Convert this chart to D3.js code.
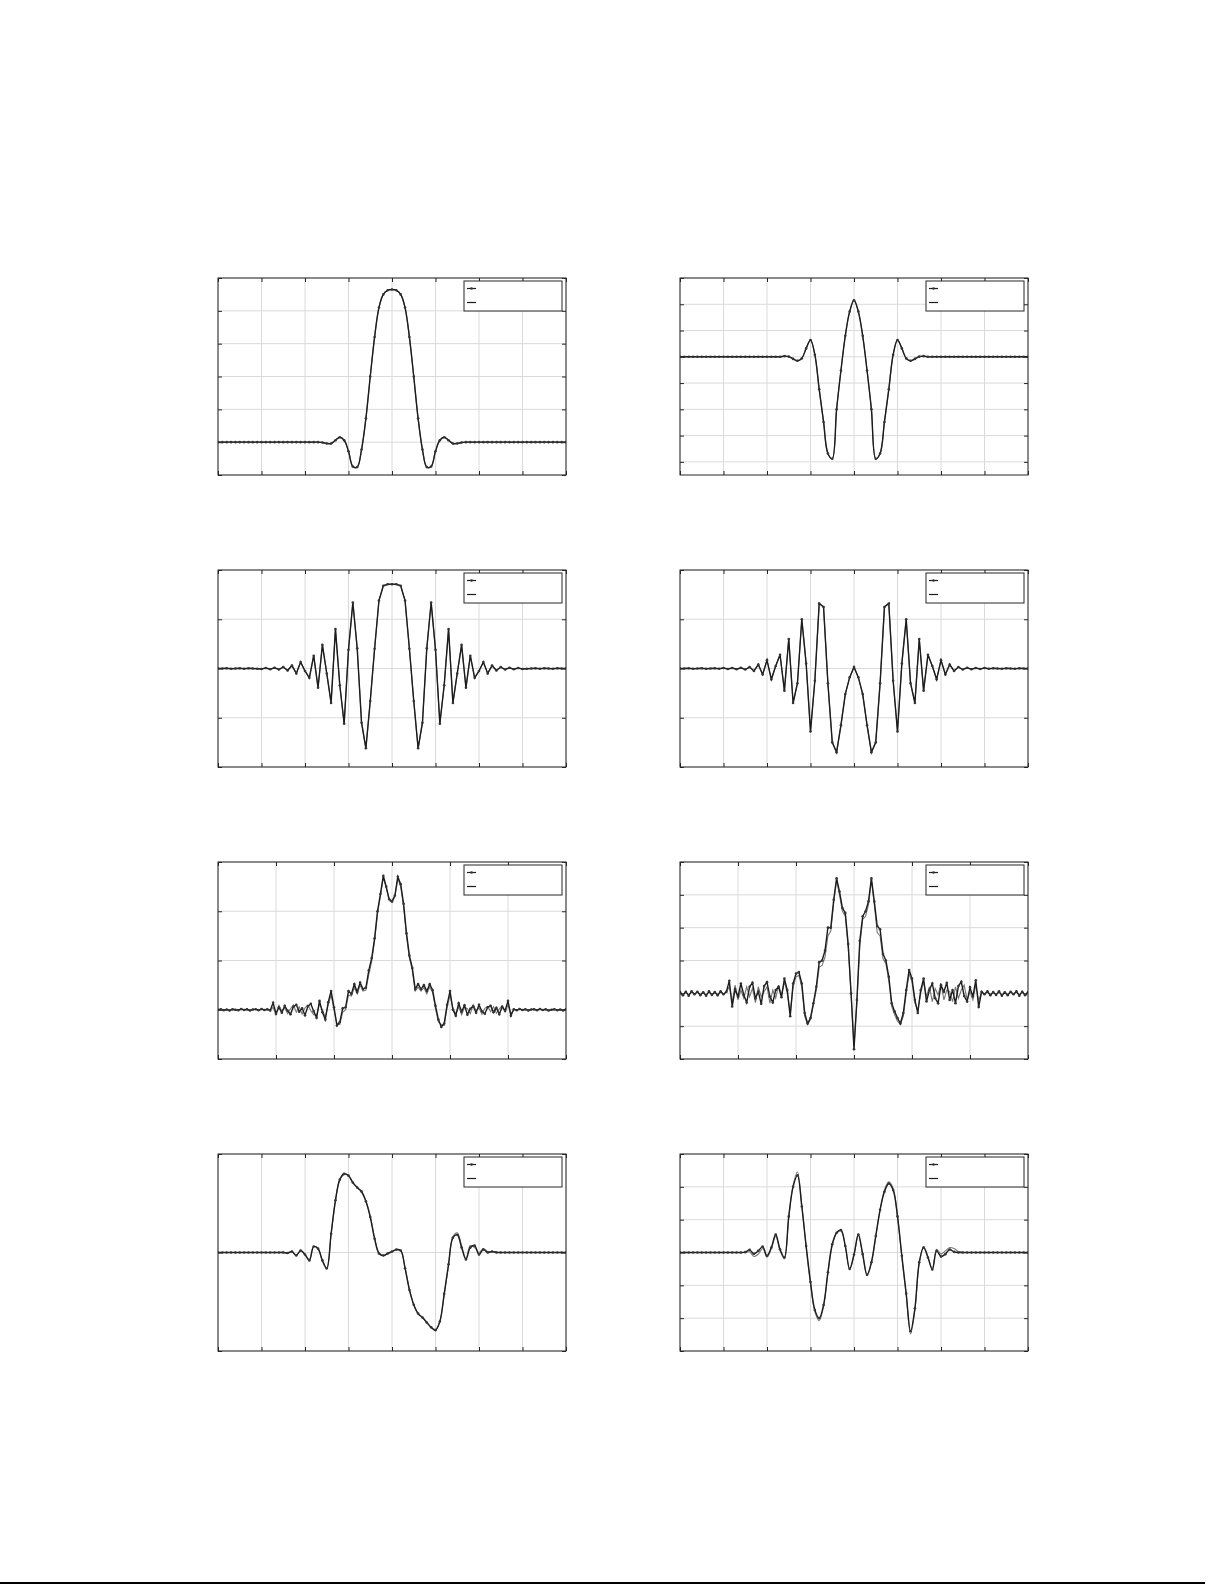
<!DOCTYPE html>
<html><head><meta charset="utf-8">
<script src="https://cdn.jsdelivr.net/npm/d3@7"></script>
<style>html,body{margin:0;padding:0;background:#fff;}svg{display:block;}</style>
</head><body>
<svg id="chart" width="1225" height="1585"></svg>
<script>
// ---------------- DATA ----------------
const xDom8 = [-4, 4];
const xDom6 = [-3, 3];
const xTicks8 = [-4, -3, -2, -1, 0, 1, 2, 3, 4];
const xTicks6 = [-3, -2, -1, 0, 1, 2, 3];

const yDom1 = [-0.2, 1.0];   const yTicks1 = [-0.2, 0, 0.2, 0.4, 0.6, 0.8, 1.0];
const yDom2 = [-1.125, 0.75]; const yTicks2 = [-1, -0.75, -0.5, -0.25, 0, 0.25, 0.5, 0.75];
const yDom3 = [-2, 2];       const yTicks3 = [-2, -1, 0, 1, 2];
const yDom4 = [-2, 2];       const yTicks4 = [-2, -1, 0, 1, 2];
const yDom5 = [-1, 3];       const yTicks5 = [-1, 0, 1, 2, 3];
const yDom6 = [-2, 4];       const yTicks6 = [-2, -1, 0, 1, 2, 3, 4];
const yDom7 = [-1, 1];       const yTicks7 = [-1, 0, 1];
const yDom8 = [-3, 3];       const yTicks8 = [-3, -2, -1, 0, 1, 2, 3];

// panel 1 (81 samples over [-4,4])
const p1Dots = [0,0,0,0,0,0,0,0,0,0,0,0,0,0,0,0,0,0,0,0,0,0,0,
  0,-0.002,-0.008,-0.008,0.012,0.03,0.012,-0.055,-0.148,-0.152,-0.045,0.145,0.40,0.64,0.82,0.90,0.925,
  0.93,
  0.925,0.90,0.82,0.64,0.40,0.145,-0.045,-0.152,-0.148,-0.055,0.012,0.03,0.012,-0.008,-0.008,-0.002,0,
  0,0,0,0,0,0,0,0,0,0,0,0,0,0,0,0,0,0,0,0,0,0,0];
const p1Line = p1Dots.slice();

// panel 2
const p2Dots = [0,0,0,0,0,0,0,0,0,0,0,0,0,0,0,0,0,0,0,0,0,0,0,
  0,0.006,0.002,-0.02,-0.038,-0.015,0.08,0.16,0.02,-0.31,-0.62,-0.92,-0.97,-0.5,-0.13,0.20,0.43,
  0.538,
  0.43,0.20,-0.13,-0.5,-0.97,-0.92,-0.62,-0.31,0.02,0.16,0.08,-0.015,-0.038,-0.02,0.002,0.006,0,
  0,0,0,0,0,0,0,0,0,0,0,0,0,0,0,0,0,0,0,0,0,0,0];
const p2Line = p2Dots.slice();

// panel 3
const p3Dots = [0,0,0.005,-0.005,0,0.005,-0.005,0.005,0,-0.005,
  -0.01,0.01,-0.015,0.015,-0.02,0.03,-0.04,0.06,-0.10,0.13,-0.05,-0.19,0.26,-0.39,0.48,-0.1,-0.7,0.80,-0.34,-1.12,
  0.38,1.34,0.41,-1.1,-1.62,-0.66,0.4,1.38,1.68,1.71,
  1.71,
  1.71,1.68,1.38,0.4,-0.66,-1.62,-1.1,0.41,1.34,0.38,
  -1.12,-0.34,0.80,-0.7,-0.1,0.48,-0.39,0.26,-0.19,-0.05,0.13,-0.10,0.06,-0.04,0.03,-0.02,0.015,-0.015,0.01,-0.01,
  -0.005,0,0.005,-0.005,0.005,0,-0.005,0.005,0,0];
const p3Line = p3Dots.slice();

// panel 4
const p4Dots = [0,0,0.005,-0.005,0,0.005,-0.005,0,0.005,-0.005,
  0.01,-0.01,0.01,-0.015,0.015,-0.02,0.03,-0.05,0.08,-0.12,0.17,-0.22,0.05,0.28,-0.45,0.6,-0.7,-0.3,1.0,0.1,
  -1.28,-0.25,1.32,1.25,-0.3,-1.5,-1.7,-1.15,-0.52,-0.18,
  0.03,
  -0.18,-0.52,-1.15,-1.7,-1.5,-0.3,1.25,1.32,-0.25,-1.28,
  0.1,1.0,-0.3,-0.7,0.6,-0.45,0.28,0.05,-0.22,0.17,-0.12,0.08,-0.05,0.03,-0.02,0.015,-0.015,0.01,-0.01,0.01,
  -0.005,0.005,0,-0.005,0.005,0,-0.005,0.005,0,0];
const p4Line = p4Dots.slice();

// panel 5 (121 samples over [-3,3])
const p5Dots = [0,0.01,-0.01,0.005,-0.015,0.01,0,-0.01,0.015,-0.005,0.01,-0.015,0.005,0.01,-0.01,0.015,-0.005,0.01,-0.015,
  0.14,-0.08,0.05,-0.06,0.08,-0.02,-0.09,0.06,0.1,-0.04,0.03,-0.11,0.07,0.12,-0.03,-0.16,
  0.18,-0.05,-0.2,0.15,0.38,0.05,-0.32,-0.25,0.03,0.05,0.38,0.32,0.52,0.36,0.55,0.42,0.45,0.8,1.05,1.45,
  2.0,2.35,2.72,2.5,2.25,2.2,2.32,2.7,2.55,2.15,1.55,1.1,0.85,0.42,0.52,0.42,0.5,0.38,0.52,0.4,
  0.08,-0.2,-0.35,-0.28,0.1,0.38,0.0,-0.12,0.13,-0.04,0.09,-0.1,0.02,0.07,-0.06,0.1,-0.03,-0.08,0.05,0.08,
  -0.05,0.04,-0.09,0.06,-0.02,0.18,-0.12,
  0.01,-0.01,0.015,-0.005,0.01,-0.015,0.005,0.01,-0.01,0.015,-0.005,0.01,-0.015,0,0.01,-0.01,0.005,-0.015,0.01];
const p5Line = [0,0.005,-0.005,0.005,-0.01,0.005,0,-0.005,0.01,-0.005,0.005,-0.01,0.005,0.005,-0.005,0.01,-0.005,0.005,-0.01,
  0.05,-0.1,0.09,-0.03,0.04,-0.08,0.02,0.1,-0.05,0.06,-0.09,0.04,0.1,-0.02,-0.1,-0.12,
  0.12,0.0,-0.15,0.1,0.3,0.0,-0.28,-0.3,-0.05,0.0,0.3,0.28,0.45,0.32,0.5,0.38,0.4,0.72,0.98,1.4,
  1.95,2.3,2.68,2.48,2.22,2.18,2.3,2.66,2.5,2.1,1.5,1.05,0.8,0.38,0.46,0.38,0.45,0.32,0.46,0.35,
  0.02,-0.25,-0.3,-0.32,0.05,0.3,0.04,-0.08,0.06,-0.1,0.05,0.02,-0.08,0.1,-0.02,0.04,-0.09,0.03,0.07,-0.04,
  0.06,-0.07,0.02,0.08,-0.05,0.1,-0.08,
  0.005,-0.005,0.01,-0.005,0.005,-0.01,0.005,0.005,-0.005,0.01,-0.005,0.005,-0.01,0,0.005,-0.005,0.005,-0.01,0.005];

// panel 6
const p6Dots = [0.04,-0.06,0.05,-0.07,0.06,-0.03,0.05,-0.06,0.03,-0.07,0.06,-0.05,0.04,-0.06,0.06,-0.03,0.05,
  0.38,-0.4,0.12,-0.1,0.3,-0.05,-0.28,0.2,0.32,-0.15,0.05,-0.32,0.22,0.34,-0.1,-0.28,0.1,0.2,-0.12,
  0.45,0.1,-0.7,0.3,0.6,0.65,0.3,-0.6,-0.92,-0.75,-0.3,0.2,0.95,1.0,1.3,2.0,2.0,2.85,3.5,3.1,2.6,2.45,1.5,0.0,
  -1.7,
  -0.2,1.6,2.35,2.5,2.8,3.5,2.8,2.05,1.95,1.2,1.0,0.5,-0.3,-0.55,-0.75,-0.92,-0.6,0.1,0.71,0.45,-0.2,-0.6,0.1,0.45,
  -0.25,0.1,0.3,-0.15,-0.3,0.25,0.05,0.32,-0.2,0.1,-0.3,0.22,0.35,-0.08,-0.25,0.18,-0.1,0.4,-0.42,
  0.05,-0.03,0.06,-0.06,0.04,-0.05,0.06,-0.07,0.03,-0.06,0.05,-0.03,0.06,-0.07,0.05,-0.06,0.03];
const p6Line = [0.02,-0.03,0.03,-0.04,0.03,-0.02,0.03,-0.03,0.02,-0.04,0.03,-0.03,0.02,-0.03,0.03,-0.02,0.03,
  0.2,-0.25,0.25,-0.2,0.1,-0.15,0.2,-0.1,0.15,-0.28,0.2,-0.1,0.05,0.2,-0.3,0.1,-0.15,0.25,-0.05,
  0.35,0.0,-0.6,0.2,0.5,0.55,0.2,-0.7,-0.95,-0.8,-0.35,0.1,0.8,0.85,1.1,1.75,1.9,2.75,3.45,3.0,2.5,2.35,1.4,-0.05,
  -1.6,
  -0.3,1.45,2.25,2.35,2.7,3.45,2.7,1.85,1.75,1.05,0.9,0.4,-0.4,-0.65,-0.85,-0.95,-0.7,0.0,0.6,0.35,-0.3,-0.5,0.0,0.35,
  -0.1,0.2,-0.25,0.15,-0.05,0.3,-0.2,0.1,0.05,-0.25,0.2,-0.15,0.1,0.25,-0.2,0.05,-0.2,0.25,-0.22,
  0.03,-0.02,0.03,-0.03,0.02,-0.03,0.03,-0.04,0.02,-0.03,0.03,-0.02,0.03,-0.04,0.03,-0.03,0.02];

// panel 7 (81 samples over [-4,4])
const p7Dots = [0,0,0,0,0,0,0,0,0,0,0,0,0,0,0,0,
  -0.005,0.01,-0.03,0.02,-0.02,-0.08,0.06,0.04,-0.08,-0.16,0.19,0.53,0.74,0.80,0.78,0.71,0.66,0.62,0.52,0.36,
  0.14,-0.01,-0.03,-0.01,0.01,0.03,0.02,-0.16,-0.38,-0.53,-0.62,-0.66,-0.71,-0.76,-0.79,-0.7,-0.42,-0.12,0.15,
  0.18,0.05,-0.07,0.05,0.07,-0.02,0.03,0.0,0.01,0,
  0,0,0,0,0,0,0,0,0,0,0,0,0,0,0,0];
const p7Line = [0,0,0,0,0,0,0,0,0,0,0,0,0,0,0,0.005,
  -0.01,0.005,-0.025,0.015,-0.025,-0.07,0.06,0.035,-0.09,-0.17,0.18,0.52,0.74,0.79,0.78,0.71,0.66,0.61,0.52,0.37,
  0.15,0.0,-0.03,-0.015,0.005,0.025,0.02,-0.15,-0.37,-0.53,-0.62,-0.66,-0.71,-0.76,-0.78,-0.7,-0.43,-0.13,0.16,
  0.2,0.07,-0.06,0.07,0.05,0.0,0.04,0.01,0.01,0.005,
  0,0,0,0,0,0,0,0,0,0,0,0,0,0,0,0];

// panel 8
const p8Dots = [0,0,0,0,0,0,0,0,0,0,0,0,0,0,
  0,0.01,0.08,-0.04,0.05,0.18,-0.1,0.15,0.55,0.1,-0.15,1.1,2.0,2.35,1.4,0.2,
  -0.9,-1.75,-2.0,-1.6,-0.6,0.25,0.6,0.68,0.2,-0.5,-0.06,0.55,-0.05,-0.68,-0.3,0.5,1.3,1.85,2.1,1.9,
  1.1,-0.1,-1.25,-2.4,-1.7,-0.3,0.15,-0.15,-0.52,0.05,-0.12,-0.05,0.09,0.02,0,
  0,0,0,0,0,0,0,0,0,0,0,0,0,0,0,0];
const p8Line = [0,0,0,0,0,0,0,0,0,0,0,0,0,0,
  0,0.0,0.02,-0.12,-0.05,0.12,-0.14,0.12,0.5,0.05,-0.2,1.05,2.05,2.45,1.45,0.15,
  -0.95,-1.8,-2.08,-1.65,-0.65,0.22,0.58,0.66,0.18,-0.52,-0.08,0.52,-0.08,-0.7,-0.32,0.48,1.3,1.9,2.15,1.95,
  1.1,-0.15,-1.3,-2.48,-1.75,-0.32,0.18,-0.12,-0.5,0.1,-0.05,0.05,0.15,0.12,0.03,
  0.01,0,0,0,0,0,0,0,0,0,0,0,0,0,0,0];

// ---------------- LAYOUT ----------------
const colLeft = [218, 680];
const rowTop = [278, 570, 862, 1154];
const W = 348, H = 197;

const panels = [
  {col:0,row:0,xd:xDom8,xt:xTicks8,yd:yDom1,yt:yTicks1,a:p1Dots,b:p1Line,smooth:true},
  {col:1,row:0,xd:xDom8,xt:xTicks8,yd:yDom2,yt:yTicks2,a:p2Dots,b:p2Line,smooth:true},
  {col:0,row:1,xd:xDom8,xt:xTicks8,yd:yDom3,yt:yTicks3,a:p3Dots,b:p3Line,smooth:false},
  {col:1,row:1,xd:xDom8,xt:xTicks8,yd:yDom4,yt:yTicks4,a:p4Dots,b:p4Line,smooth:false},
  {col:0,row:2,xd:xDom6,xt:xTicks6,yd:yDom5,yt:yTicks5,a:p5Dots,b:p5Line,smooth:false},
  {col:1,row:2,xd:xDom6,xt:xTicks6,yd:yDom6,yt:yTicks6,a:p6Dots,b:p6Line,smooth:false},
  {col:0,row:3,xd:xDom8,xt:xTicks8,yd:yDom7,yt:yTicks7,a:p7Dots,b:p7Line,smooth:true},
  {col:1,row:3,xd:xDom8,xt:xTicks8,yd:yDom8,yt:yTicks8,a:p8Dots,b:p8Line,smooth:true}
];

const svg = d3.select('#chart');
const defs = svg.append('defs');

panels.forEach((p, k) => {
  const g = svg.append('g').attr('transform', `translate(${colLeft[p.col]},${rowTop[p.row]})`);
  const x = d3.scaleLinear().domain(p.xd).range([0, W]);
  const y = d3.scaleLinear().domain(p.yd).range([H, 0]);

  defs.append('clipPath').attr('id', 'clip' + k)
    .append('rect').attr('x', 0).attr('y', 0).attr('width', W).attr('height', H);

  // grid
  g.append('g').selectAll('line').data(p.xt).join('line')
    .attr('x1', d => x(d)).attr('x2', d => x(d)).attr('y1', 0).attr('y2', H)
    .attr('stroke', '#dadada').attr('stroke-width', 1);
  g.append('g').selectAll('line').data(p.yt).join('line')
    .attr('y1', d => y(d)).attr('y2', d => y(d)).attr('x1', 0).attr('x2', W)
    .attr('stroke', '#dadada').attr('stroke-width', 1);

  // inward ticks on all sides
  const tk = 4;
  const axB = g.append('g').attr('transform', `translate(0,${H})`)
    .call(d3.axisBottom(x).tickValues(p.xt).tickSize(-tk).tickFormat(''));
  const axT = g.append('g')
    .call(d3.axisTop(x).tickValues(p.xt).tickSize(-tk).tickFormat(''));
  const axL = g.append('g')
    .call(d3.axisLeft(y).tickValues(p.yt).tickSize(-tk).tickFormat(''));
  const axR = g.append('g').attr('transform', `translate(${W},0)`)
    .call(d3.axisRight(y).tickValues(p.yt).tickSize(-tk).tickFormat(''));
  [axB, axT, axL, axR].forEach(a => {
    a.select('.domain').remove();
    a.selectAll('line').attr('stroke', '#262626');
  });

  // data
  const plot = g.append('g').attr('clip-path', `url(#clip${k})`);
  const mk = (arr) => {
    const n = arr.length;
    const dx = (p.xd[1] - p.xd[0]) / (n - 1);
    return arr.map((v, i) => [p.xd[0] + i * dx, v]);
  };
  const A = mk(p.a), B = mk(p.b);
  const line = d3.line().x(d => x(d[0])).y(d => y(d[1]))
    .curve(p.smooth ? d3.curveCatmullRom.alpha(0.5) : d3.curveLinear);

  plot.append('path').datum(B).attr('d', line)
    .attr('fill', 'none').attr('stroke', '#777').attr('stroke-width', 1.1);
  plot.append('path').datum(A).attr('d', line)
    .attr('fill', 'none').attr('stroke', '#1c1c1c').attr('stroke-width', 1.4);
  plot.append('g').selectAll('circle').data(A).join('circle')
    .attr('cx', d => x(d[0])).attr('cy', d => y(d[1])).attr('r', 1.3)
    .attr('fill', '#333');

  // border
  g.append('rect').attr('x', 0).attr('y', 0).attr('width', W).attr('height', H)
    .attr('fill', 'none').attr('stroke', '#262626').attr('stroke-width', 1);

  // legend
  const lw = 98, lh = 30;
  const lg = g.append('g').attr('transform', `translate(${W - lw - 4},3)`);
  lg.append('rect').attr('width', lw).attr('height', lh)
    .attr('fill', '#fff').attr('stroke', '#262626').attr('stroke-width', 1);
  lg.append('line').attr('x1', 3).attr('x2', 12).attr('y1', 7.5).attr('y2', 7.5)
    .attr('stroke', '#1c1c1c').attr('stroke-width', 1.2);
  lg.append('circle').attr('cx', 7.5).attr('cy', 7.5).attr('r', 1.3).attr('fill', '#333');
  lg.append('line').attr('x1', 3).attr('x2', 12).attr('y1', 21.5).attr('y2', 21.5)
    .attr('stroke', '#1c1c1c').attr('stroke-width', 1.2);
});

// bottom page rule
svg.append('line').attr('x1', 0).attr('x2', 1205).attr('y1', 1583).attr('y2', 1583)
  .attr('stroke', '#000').attr('stroke-width', 2);
</script>
</body></html>
